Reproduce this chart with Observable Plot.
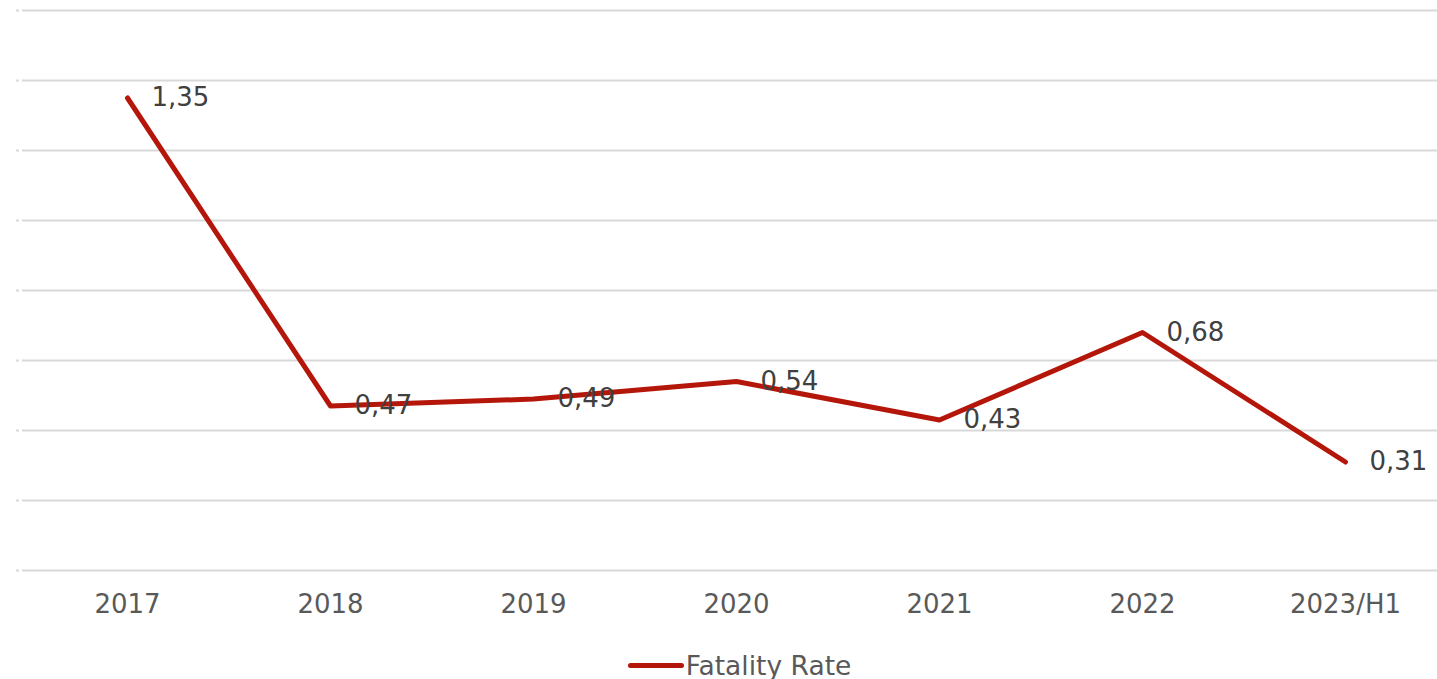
<!DOCTYPE html>
<html>
<head>
<meta charset="utf-8">
<script src="https://cdn.jsdelivr.net/npm/d3@7"></script>
<script src="https://cdn.jsdelivr.net/npm/@observablehq/plot@0.6"></script>
<style>
  html, body { margin: 0; padding: 0; background: #fff; }
  body { width: 1437px; height: 679px; overflow: hidden; font-family: "DejaVu Sans", sans-serif; }
  #legend { display: flex; justify-content: center; align-items: center; height: 39px; margin-top: 6px; margin-left: 42px; font-size: 26.5px; color: #595959; }
  #legend .sw { width: 56px; height: 5px; background: #b5160a; border-radius: 3px; margin-right: 2px; }
</style>
</head>
<body>
<div id="chart"></div>
<div id="legend"><span class="sw"></span><span>Fatality Rate</span></div>
<script>
const years = ["2017", "2018", "2019", "2020", "2021", "2022", "2023/H1"];
const fatalityRate = [1.35, 0.47, 0.49, 0.54, 0.43, 0.68, 0.31];
const yTicks = [0, 0.2, 0.4, 0.6, 0.8, 1.0, 1.2, 1.4, 1.6];
const seriesName = "Fatality Rate";

const data = years.map((y, i) => ({year: y, value: fatalityRate[i], series: seriesName}));
const fmt = v => v.toFixed(2).replace(".", ",");

const chart = Plot.plot({
  width: 1437,
  height: 640,
  marginTop: 10,
  marginBottom: 70,
  marginLeft: 22,
  marginRight: 0,
  style: {fontFamily: "DejaVu Sans, sans-serif", background: "#fff"},
  x: {type: "point", domain: years, range: [124, 1347], padding: 0},
  y: {domain: [0, 1.6], range: [570, 10], label: null},
  marks: [
    Plot.ruleY(yTicks, {stroke: "#d9d9d9", strokeWidth: 2}),
    Plot.axisY({ticks: yTicks, tickSize: 3, tickFormat: () => "", stroke: "#d9d9d9", strokeWidth: 2, dx: -3, label: null}),
    Plot.axisX({tickSize: 0, tickPadding: 24, fontSize: 26, fill: "#595959", label: null}),
    Plot.line(data, {x: "year", y: "value", stroke: "#b5160a", strokeWidth: 5, strokeLinejoin: "round"}),
    Plot.text(data, {x: "year", y: "value", text: d => fmt(d.value), textAnchor: "start", dx: 24, fontSize: 26, fill: "#404040"})
  ]
});
document.getElementById("chart").appendChild(chart);
</script>
</body>
</html>
